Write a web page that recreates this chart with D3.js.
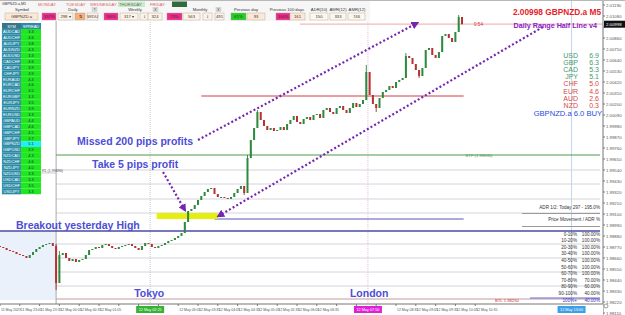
<!DOCTYPE html>
<html>
<head>
<meta charset="utf-8">
<script src="https://cdn.jsdelivr.net/npm/d3@7"></script>
<style>
  body { margin: 0; background: #fff; }
  svg { display: block; font-family: "Liberation Sans", Arial, sans-serif; }
</style>
</head>
<body>
<svg id="chart" width="625" height="315"></svg>
<script>
// GBPNZD.a M5 closes (open = previous close)
const firstOpen = 1.9878;
const closes = [
  1.9877, 1.9876, 1.9874, 1.9873, 1.9872, 1.9870, 1.9869, 1.9868, 1.9866, 1.9869,
  1.9872, 1.9875, 1.9877, 1.9879, 1.9880, 1.9881, 1.9878, 1.9841, 1.9869, 1.9871,
  1.9866, 1.9863, 1.9865, 1.9862, 1.9864, 1.9865, 1.9869, 1.9874, 1.9875, 1.9877,
  1.9876, 1.9879, 1.9880, 1.9878, 1.9876, 1.9875, 1.9877, 1.9878, 1.9879, 1.9880,
  1.9878, 1.9876, 1.9874, 1.9878, 1.9881, 1.9880, 1.9877, 1.9876, 1.9878, 1.9879,
  1.9881, 1.9883, 1.9884, 1.9886, 1.9888, 1.9891, 1.9902, 1.9913, 1.9915, 1.9919,
  1.9924, 1.9928, 1.9932, 1.9935, 1.9936, 1.9930, 1.9927, 1.9927, 1.9926, 1.9925,
  1.9927, 1.9931, 1.9935, 1.9938, 1.9931, 1.9966, 1.9984, 1.9996, 2.0012, 2.0004,
  1.9998, 1.9994, 1.9996, 1.9993, 1.9994, 1.9997, 1.9994, 2.0000, 2.0004, 2.0008,
  2.0002, 2.0000, 2.0005, 2.0007, 2.0004, 2.0009, 2.0010, 2.0006, 2.0014, 2.0016,
  2.0012, 2.0010, 2.0016, 2.0018, 2.0014, 2.0011, 2.0016, 2.0021, 2.0017, 2.0020,
  2.0024, 2.0052, 2.0029, 2.0020, 2.0016, 2.0026, 2.0032, 2.0034, 2.0038, 2.0036,
  2.0042, 2.0044, 2.0046, 2.0068, 2.0066, 2.0060, 2.0054, 2.0048, 2.0056, 2.0074,
  2.0076, 2.0069, 2.0066, 2.0072, 2.0088, 2.0090, 2.0086, 2.0082, 2.0092, 2.0107,
  2.00998];
const highs = {17: 1.9880, 18: 1.9873, 75: 1.9969, 78: 2.0014, 111: 2.0059, 123: 2.0071, 139: 2.0109};
const lows = {17: 1.9834, 74: 1.9929, 114: 2.0012, 127: 2.0046};

const priceTicks = [2.0119, 2.0108, 2.0097, 2.0086, 2.0075, 2.0064, 2.0053, 2.0042, 2.0031, 2.0020,
  2.0009, 1.9998, 1.9987, 1.9976, 1.9965, 1.9954, 1.9943, 1.9932, 1.9921, 1.9910,
  1.9899, 1.9888, 1.9877, 1.9866, 1.9855, 1.9844, 1.9833, 1.9822, 1.9811];
const timeIdx = [0, 6, 12, 18, 24, 30, 36, 42, 48, 54, 60, 66, 72, 78, 84, 90, 96, 102, 108, 114, 120, 126, 132, 138, 144];
const timeLabels = ["11 May 2023", "11 May 23:05", "11 May 23:35", "12 May 00:05", "12 May 00:35",
  "12 May 01:05", "12 May 01:35", "12 May 02:05", "12 May 02:35", "12 May 03:05", "12 May 03:35",
  "12 May 04:05", "12 May 04:35", "12 May 05:05", "12 May 05:35", "12 May 06:05", "12 May 06:35",
  "12 May 07:05", "12 May 07:35", "12 May 08:05", "12 May 08:35", "12 May 09:05", "12 May 09:35",
  "12 May 10:05", "12 May 10:35"];

const dayStart = 17;
const sessionNames = ["Tokyo", "London"];
const sessionIdx = [45.5, 111.5];
const sessionTimes = ["12 May 02:25", "12 May 07:50"];
const nowIdx = 173.2, nowLabel = "12 May 13:00";

const yesterdayHigh = 1.9893, entryPrice = 1.9905, takeProfit = 1.9911;
const redLevel = 2.0028, greenLevel = 1.9969, bottomLevel = 1.9825;
const rangeLevels = [1.9954, 1.9940, 1.9925, 1.9911, 1.9880, 1.9866, 1.9852, 1.9838];
const lastPrice = 2.00998;

const currencies = ["USD", "GBP", "CAD", "JPY", "CHF", "EUR", "AUD", "NZD"];
const strength = [6.9, 6.3, 5.3, 5.1, 5.0, 4.6, 2.6, 0.3];

const adrRanges = ["0-10%", "10-20%", "20-30%", "30-40%", "40-50%", "50-60%", "60-70%", "70-80%", "80-90%", "90-100%", "100%+"];
const adrHits = [100, 100, 100, 100, 100, 100, 100, 70, 60, 40, 40];

const symbols = ["AUDCAD", "AUDCHF", "AUDJPY", "AUDNZD", "AUDUSD", "CADCHF", "CADJPY", "CHFJPY", "EURAUD", "EURCAD",
  "EURCHF", "EURGBP", "EURJPY", "EURNZD", "EURUSD", "GBPAUD", "GBPCAD", "GBPCHF", "GBPJPY", "GBPNZD",
  "GBPUSD", "NZDCAD", "NZDCHF", "NZDJPY", "NZDUSD", "USDCAD", "USDCHF", "USDJPY"];
const spreads = [3.3, 4.6, 3.8, 4.3, 3.3, 4.6, 3.9, 3.9, 4.4, 4.6, 3.5, 3.3, 3.5, 3.9, 3.3, 4.4, 4.6, 4.5, 3.7, 5.1,
  3.9, 4.3, 4.6, 4.0, 3.3, 3.3, 3.5, 3.3];

const days = ["MONDAY", "TUESDAY", "WEDNESDAY", "THURSDAY", "FRIDAY"];

var svg = d3.select("#chart");
var W = 625, H = 315, axisX = 603, plotBottom = 304;

var x = d3.scaleLinear().domain([0, 140]).range([0, 462]);
var y = d3.scaleLinear().domain([1.9820, 2.0124]).range([plotBottom, 0]);

var candles = closes.map(function (c, i) {
  var o = i ? closes[i - 1] : firstOpen;
  return {
    i: i, o: o, c: c,
    h: highs[i] !== undefined ? highs[i] : Math.max(o, c),
    l: lows[i] !== undefined ? lows[i] : Math.min(o, c)
  };
});

var defs = svg.append("defs");
defs.append("marker").
attr("id", "arr").
attr("viewBox", "0 0 10 10").
attr("refX", 7).attr("refY", 5).
attr("markerWidth", 3.6).attr("markerHeight", 3.6).
attr("orient", "auto").
append("path").attr("d", "M0,0L10,5L0,10z").attr("fill", "#7426b0");

// previous-day shading
svg.append("rect").
attr("x", 0).attr("y", y(yesterdayHigh)).
attr("width", x(dayStart)).attr("height", plotBottom - 4 - y(yesterdayHigh)).
attr("fill", "#eaf1fb");

// daily range grid levels
svg.selectAll(".lvl").data(rangeLevels).enter().append("line").
attr("x1", x(dayStart)).attr("x2", axisX - 3).
attr("y1", d => y(d)).attr("y2", d => y(d)).
attr("stroke", "#d4d4dc").attr("stroke-width", 1);

// vertical markers
svg.append("line").attr("x1", x(dayStart)).attr("x2", x(dayStart)).attr("y1", 21).attr("y2", plotBottom).
attr("stroke", "#a8a8a8");
svg.append("line").attr("x1", x(sessionIdx[0])).attr("x2", x(sessionIdx[0])).attr("y1", 0).attr("y2", plotBottom).
attr("stroke", "#c8c8c8").attr("stroke-dasharray", "1,1");
svg.append("line").attr("x1", x(sessionIdx[1])).attr("x2", x(sessionIdx[1])).attr("y1", 0).attr("y2", plotBottom).
attr("stroke", "#e8b8e8").attr("stroke-dasharray", "1,1");
svg.append("line").attr("x1", x(nowIdx)).attr("x2", x(nowIdx)).attr("y1", 0).attr("y2", plotBottom).
attr("stroke", "#c4d4ea");

// horizontal levels
function hline(price, x1, x2, color, w) {
  svg.append("line").attr("x1", x1).attr("x2", x2).attr("y1", y(price)).attr("y2", y(price)).
  attr("stroke", color).attr("stroke-width", w || 1);
}
hline(lastPrice, 300, axisX, "#f4b8b8", 1.2);
hline(redLevel, x(61), x(140.5), "#d83a3a", 1);
hline(greenLevel, x(dayStart), axisX - 3, "#4c9a4c", 1);
hline(yesterdayHigh, 0, axisX - 3, "#4a4aa8", 1.3);
hline(entryPrice, x(65), x(140.5), "#5656b8", 1);
hline(bottomLevel, x(dayStart), axisX - 3, "#c89a9a", 1.2);
hline(bottomLevel + 0.0001, 530, axisX - 3, "#6a6ad8", 1.2);

svg.append("text").attr("x", x(141)).attr("y", y(greenLevel) + 1.5).
attr("font-size", 4.2).attr("fill", "#4c9a4c").text("STP (1.99690)");
svg.append("text").attr("x", 495).attr("y", y(bottomLevel) + 3).
attr("font-size", 4.2).attr("fill", "#d03030").text("BTL 1.98250");
svg.append("text").attr("x", 474).attr("y", y(lastPrice) + 1.8).
attr("font-size", 4.6).attr("fill", "#e03030").text("0:54");

// take-profit box
svg.append("rect").
attr("x", x(47.5)).attr("y", y(takeProfit)).
attr("width", x(66) - x(47.5)).attr("height", y(entryPrice) - y(takeProfit)).
attr("fill", "#e6ee10");

// candles
var cw = 2;
var cg = svg.append("g");
cg.selectAll(".wick").data(candles).enter().append("line").
attr("x1", d => x(d.i)).attr("x2", d => x(d.i)).
attr("y1", d => y(d.h)).attr("y2", d => y(d.l)).
attr("stroke", d => d.c >= d.o ? "#1f6e2c" : "#8c1c1c").attr("stroke-width", 0.8);
cg.selectAll(".body").data(candles).enter().append("rect").
attr("x", d => x(d.i) - cw / 2).
attr("y", d => y(Math.max(d.o, d.c))).
attr("width", cw).
attr("height", d => Math.max(1, Math.abs(y(d.o) - y(d.c)))).
attr("fill", d => d.c >= d.o ? "#2e8b3e" : "#b83030");

// dotted arrows
function arrow(i0, p0, i1, p1) {
  svg.append("line").
  attr("x1", x(i0)).attr("y1", y(p0)).attr("x2", x(i1)).attr("y2", y(p1)).
  attr("stroke", "#7426b0").attr("stroke-width", 2.2).
  attr("stroke-dasharray", "2,2.2").
  attr("marker-end", "url(#arr)");
}
arrow(60, 1.9984, 126.4, 2.0101);
arrow(164.5, 2.0097, 66.2, 1.9908);
arrow(49.4, 1.9952, 56, 1.9914);

// annotations
var blue = "#4d4dd6";
function note(tx, ty, txt, size) {
  svg.append("text").attr("x", tx).attr("y", ty).
  attr("font-size", size).attr("font-weight", "bold").attr("fill", blue).text(txt);
}
note(77, 145, "Missed 200 pips profits", 10.5);
note(92, 168, "Take 5 pips profit", 10.5);
note(16, 229, "Breakout yesterday High", 10.5);
note(x(sessionIdx[0]) - 16, 297, sessionNames[0], 10.5);
note(x(sessionIdx[1]) - 18, 297, sessionNames[1], 10.5);

// price axis
svg.append("rect").attr("x", axisX).attr("y", 0).attr("width", W - axisX).attr("height", H).attr("fill", "#fff");
svg.append("line").attr("x1", axisX).attr("x2", axisX).attr("y1", 0).attr("y2", H).attr("stroke", "#777");
var pa = svg.append("g").attr("font-size", 4.3).attr("fill", "#555");
priceTicks.forEach(function (p) {
  pa.append("line").attr("x1", axisX).attr("x2", axisX + 2).attr("y1", y(p)).attr("y2", y(p)).attr("stroke", "#777");
  if (Math.abs(y(p) - y(lastPrice)) > 5) {
    pa.append("text").attr("x", axisX + 3).attr("y", y(p) + 1.5).text(p.toFixed(5));
  }
});
svg.append("rect").attr("x", axisX + 1).attr("y", y(lastPrice) - 3.5).attr("width", 21).attr("height", 7).attr("fill", "#111");
svg.append("text").attr("x", axisX + 3).attr("y", y(lastPrice) + 1.6).attr("font-size", 4.3).attr("fill", "#fff").text(lastPrice.toFixed(5));

// right side legend
svg.append("text").attr("x", 601).attr("y", 15).attr("text-anchor", "end").
attr("font-size", 8.3).attr("font-weight", "bold").attr("fill", "#e8202a").
text(lastPrice.toFixed(5) + " GBPNZD.a M5");
svg.append("text").attr("x", 597).attr("y", 27.5).attr("text-anchor", "end").
attr("font-size", 7.2).attr("font-weight", "bold").attr("fill", "#8a20c8").
text("Daily Range Half Line v4");

var lg = svg.append("g").attr("font-size", 7);
currencies.forEach(function (cur, k) {
  var col = strength[k] > 5.05 ? "#3f9a6a" : "#d84848";
  var yy = 58 + k * 7.1;
  lg.append("text").attr("x", 578).attr("y", yy).attr("text-anchor", "end").attr("fill", col).text(cur);
  lg.append("text").attr("x", 599).attr("y", yy).attr("text-anchor", "end").attr("fill", col).text(strength[k].toFixed(1));
});
svg.append("text").attr("x", 602).attr("y", 116).attr("text-anchor", "end").
attr("font-size", 7.6).attr("fill", "#2a4ae0").text("GBPNZD.a 6.0 BUY");

// ADR box
var ag = svg.append("g").attr("font-size", 4.6).attr("fill", "#333");
ag.append("text").attr("x", 600).attr("y", 209).attr("text-anchor", "end").text("ADR 1/2: Today 297 - 195.0%");
ag.append("line").attr("x1", 522).attr("x2", 600).attr("y1", 213.5).attr("y2", 213.5).attr("stroke", "#9a9a9a");
ag.append("text").attr("x", 600).attr("y", 221).attr("text-anchor", "end").text("Price Movement / ADR %");
ag.append("line").attr("x1", 522).attr("x2", 600).attr("y1", 226.5).attr("y2", 226.5).attr("stroke", "#9a9a9a");
adrRanges.forEach(function (r, k) {
  var yy = 235.5 + k * 6.6;
  var col = k === adrRanges.length - 1 ? "#3a3ac8" : "#333";
  ag.append("text").attr("x", 577).attr("y", yy).attr("text-anchor", "end").attr("fill", col).text(r);
  ag.append("text").attr("x", 600).attr("y", yy).attr("text-anchor", "end").attr("fill", col).text(adrHits[k].toFixed(2) + "%");
});
svg.append("circle").attr("cx", 606).attr("cy", 306).attr("r", 2).attr("fill", "none").attr("stroke", "#999");

// time axis
svg.append("rect").attr("x", 0).attr("y", plotBottom).attr("width", axisX).attr("height", H - plotBottom).attr("fill", "#fff");
svg.append("line").attr("x1", 0).attr("x2", axisX).attr("y1", plotBottom).attr("y2", plotBottom).attr("stroke", "#777");
var boxes = [sessionIdx[0], sessionIdx[1]];
var ta = svg.append("g").attr("font-size", 3.5).attr("fill", "#555");
timeIdx.forEach(function (t, k) {
  ta.append("line").attr("x1", x(t)).attr("x2", x(t)).attr("y1", plotBottom).attr("y2", plotBottom + 2).attr("stroke", "#777");
  var hidden = boxes.some(b => x(t) + 20 > x(b) - 14 && x(t) < x(b) + 14);
  if (!hidden) ta.append("text").attr("x", x(t) + 1).attr("y", 311).text(timeLabels[k]);
});
function timeBox(idx, label, bg) {
  svg.append("rect").attr("x", x(idx) - 14).attr("y", 306).attr("width", 28).attr("height", 7).attr("fill", bg);
  svg.append("text").attr("x", x(idx)).attr("y", 311).attr("text-anchor", "middle").
  attr("font-size", 3.8).attr("fill", "#fff").text(label);
}
timeBox(sessionIdx[0], sessionTimes[0], "#33b233");
timeBox(sessionIdx[1], sessionTimes[1], "#e020d8");
timeBox(nowIdx, nowLabel, "#3aa0e8");

// symbol / spread table
var tg = svg.append("g").attr("font-size", 4);
tg.append("rect").attr("x", 2).attr("y", 23).attr("width", 19).attr("height", 6).attr("fill", "#3a7488");
tg.append("rect").attr("x", 21).attr("y", 23).attr("width", 20).attr("height", 6).attr("fill", "#2f8aa8");
tg.append("text").attr("x", 11.5).attr("y", 27.6).attr("text-anchor", "middle").attr("fill", "#fff").text("SYM");
tg.append("text").attr("x", 31).attr("y", 27.6).attr("text-anchor", "middle").attr("fill", "#fff").text("SPREAD");
symbols.forEach(function (s, k) {
  var yy = 29 + k * 5.9;
  tg.append("rect").attr("x", 2).attr("y", yy).attr("width", 19).attr("height", 5.9).
  attr("fill", "#2d8ba6").attr("stroke", "#6fb4c8").attr("stroke-width", 0.3);
  tg.append("rect").attr("x", 21).attr("y", yy).attr("width", 20).attr("height", 5.9).
  attr("fill", s === "GBPNZD" ? "#22f0f0" : "#1fe81f");
  tg.append("text").attr("x", 11.5).attr("y", yy + 4.3).attr("text-anchor", "middle").attr("fill", "#fff").text(s);
  tg.append("text").attr("x", 31).attr("y", yy + 4.3).attr("text-anchor", "middle").attr("fill", "#225").text(spreads[k].toFixed(1));
});
svg.append("line").attr("x1", 41).attr("x2", 56).attr("y1", 173).attr("y2", 173).attr("stroke", "#999").attr("stroke-width", 0.5);
svg.append("text").attr("x", 42).attr("y", 172).attr("font-size", 3.6).attr("fill", "#444").text("R1 (1.99690)");

// header panel
var hg = svg.append("g").attr("font-size", 4.2);
hg.append("rect").attr("x", 0).attr("y", 0).attr("width", 370).attr("height", 21).attr("fill", "#f6f6f6");
hg.append("rect").attr("x", 0).attr("y", 0).attr("width", W).attr("height", 1).attr("fill", "#b8b8b8");
hg.append("text").attr("x", 2).attr("y", 5).attr("font-size", 3.6).attr("fill", "#333").text("GBPNZD.a,M5");
var dayX = [38, 66, 90, 119, 150];
days.forEach(function (d, k) {
  if (d === "THURSDAY") {
    hg.append("rect").attr("x", dayX[k] - 1).attr("y", 1.5).attr("width", 27).attr("height", 5.5).attr("fill", "#c8ecc8");
  }
  hg.append("text").attr("x", dayX[k]).attr("y", 6).attr("fill", d === "THURSDAY" ? "#6a6a6a" : "#e06060").text(d);
});
hg.append("rect").attr("x", 172).attr("y", 1.5).attr("width", 15).attr("height", 5.5).attr("fill", "#2e6e3a");

function lab(tx, txt) {
  hg.append("text").attr("x", tx).attr("y", 11).attr("text-anchor", "middle").attr("fill", "#333").text(txt);
}
lab(22, "Symbol"); lab(73, "Daily"); lab(135, "Weekly"); lab(200, "Monthly");
lab(246, "Previous day"); lab(287, "Previous 100 days");
lab(319, "ADR(10)"); lab(338, "AWR(12)"); lab(357, "AMR(12)");

function hbox(x0, x1, txt, bg, fg) {
  hg.append("rect").attr("x", x0).attr("y", 13).attr("width", x1 - x0).attr("height", 7).
  attr("fill", bg).attr("stroke", "#b0a090").attr("stroke-width", 0.4);
  hg.append("text").attr("x", (x0 + x1) / 2).attr("y", 18).attr("text-anchor", "middle").attr("fill", fg || "#333").text(txt);
}
hbox(5, 38, "GBPNZD.a", "#fde8d6");
hbox(42, 56, "157%", "#f0288c");
hbox(58, 73, "298 ▾", "#fdf3e6");
hbox(75, 85, "⇅", "#f7b07a");
hbox(87, 98, "W/DU", "#fdf3e6");
hbox(104, 118, "96%", "#f0288c");
hbox(120, 138, "317 ▾", "#fdf3e6");
hbox(140, 148, "⇃", "#fdf3e6");
hbox(148, 162, "324", "#fdf3e6");
hbox(167, 182, "79%", "#f0288c");
hbox(183, 200, "563", "#fdf3e6");
hbox(203, 212, "⇃", "#fdf3e6");
hbox(215, 224, "491", "#fdf3e6");
hbox(231, 246, "61%", "#22d022");
hbox(247, 265, "93", "#fde8d6");
hbox(276, 290, "100%", "#f0288c");
hbox(290, 305, "161", "#fde8d6");
hbox(310, 328, "150", "#fdf8ee");
hbox(330, 346, "333", "#fdf8ee");
hbox(348, 365, "746", "#fdf8ee");
[[92, "?"], [153, "X"], [216, "X"]].forEach(function (b) {
  hg.append("rect").attr("x", b[0]).attr("y", 7.5).attr("width", 5).attr("height", 4).attr("fill", "#ddd").attr("stroke", "#aaa").attr("stroke-width", 0.3);
  hg.append("text").attr("x", b[0] + 2.5).attr("y", 10.8).attr("text-anchor", "middle").attr("font-size", 3.4).attr("fill", "#333").text(b[1]);
});
</script>
</body>
</html>
